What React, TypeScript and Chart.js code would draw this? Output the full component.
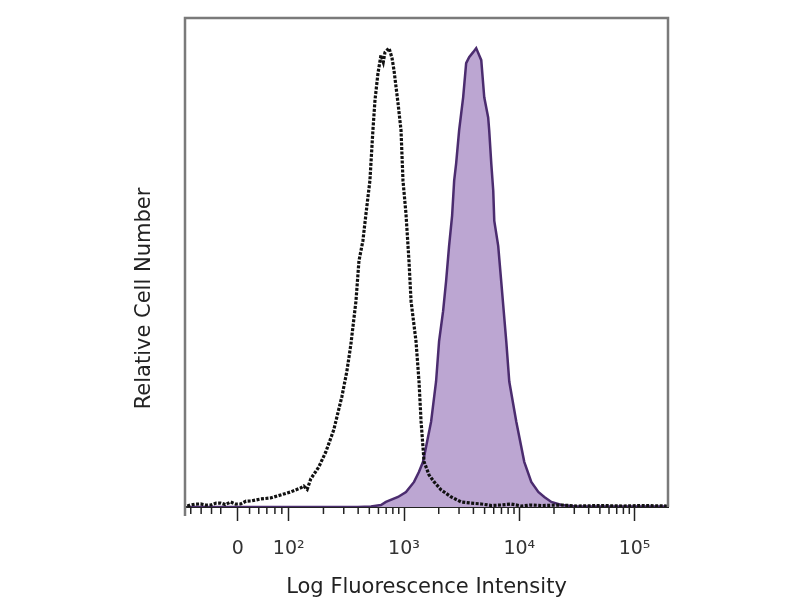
import React, { useEffect, useRef } from "react";
import { Chart, registerables } from "chart.js";

Chart.register(...registerables);

// Black (unfilled, dotted) histogram: x in log10 decades, y relative count
const blackX = [1.12, 1.148, 1.19, 1.235, 1.28, 1.322, 1.37, 1.409, 1.45, 1.496, 1.54, 1.583, 1.63, 1.67, 1.757, 1.843, 1.93, 2.017, 2.104, 2.13, 2.16, 2.191, 2.261, 2.322, 2.391, 2.461, 2.504, 2.539, 2.583, 2.609, 2.643, 2.67, 2.704, 2.73, 2.748, 2.774, 2.8, 2.82, 2.835, 2.87, 2.896, 2.913, 2.948, 2.974, 2.991, 3.017, 3.043, 3.061, 3.104, 3.13, 3.148, 3.174, 3.217, 3.261, 3.322, 3.409, 3.496, 3.58, 3.67, 3.76, 3.843, 3.93, 4.02, 4.104, 4.2, 4.365, 4.5, 4.713, 4.9, 5.061, 5.28];
const blackY = [0.2, 0.41, 0.6, 0.62, 0.4, 0.41, 0.8, 0.82, 0.5, 1.03, 0.6, 0.62, 1.2, 1.23, 1.64, 1.85, 2.46, 3.08, 3.9, 4.3, 3.6, 5.75, 8.21, 11.29, 15.81, 22.59, 27.72, 33.26, 42.09, 50.31, 54.41, 59.96, 66.74, 77.0, 83.16, 88.71, 92.4, 91.0, 93.0, 93.84, 91.79, 89.32, 82.55, 77.0, 66.74, 59.96, 50.31, 42.09, 33.88, 25.67, 17.45, 9.24, 6.57, 5.13, 3.49, 2.05, 1.03, 0.8, 0.62, 0.3, 0.41, 0.6, 0.2, 0.41, 0.3, 0.41, 0.2, 0.3, 0.2, 0.3, 0.2];

// Purple (filled) histogram
const purpleX = [1.12, 2.6, 2.713, 2.8, 2.843, 2.948, 3.017, 3.087, 3.13, 3.165, 3.2, 3.235, 3.278, 3.304, 3.339, 3.365, 3.391, 3.417, 3.435, 3.452, 3.478, 3.513, 3.539, 3.565, 3.6, 3.626, 3.652, 3.67, 3.696, 3.73, 3.739, 3.757, 3.774, 3.783, 3.817, 3.843, 3.887, 3.913, 3.974, 4.043, 4.104, 4.165, 4.217, 4.278, 4.365, 4.496, 5.28];
const purpleY = [0, 0, 0.1, 0.41, 1.03, 2.05, 3.08, 5.13, 7.19, 9.24, 13.35, 17.45, 25.67, 33.88, 40.04, 46.2, 53.39, 59.55, 66.74, 70.23, 77.0, 83.78, 90.76, 91.99, 93.02, 93.84, 92.4, 91.38, 83.78, 79.67, 77.0, 70.23, 64.68, 58.52, 53.39, 46.2, 33.88, 25.67, 17.45, 9.24, 5.13, 3.08, 2.05, 1.03, 0.41, 0.1, 0.1];

// Axis ticks
const tickValues = [1.557, 2, 3, 4, 5];
const tickLabels = ["0", "10²", "10³", "10⁴", "10⁵"];
const nearZeroMinorTicks = [1.15, 1.24, 1.33, 1.41, 1.66, 1.74, 1.81, 1.88, 1.94];

const X_MIN = 1.1;
const X_MAX = 5.29;
const FONT = "'DejaVu Sans', sans-serif";

function buildMinorTicks(): number[] {
  const out: number[] = [...nearZeroMinorTicks];
  for (let d = 2; d <= 5; d++) {
    for (let k = 2; k <= 9; k++) {
      const v = d + Math.log10(k);
      if (v < X_MAX) out.push(v);
    }
  }
  return out;
}

const framePlugin = {
  id: "framePlugin",
  afterDraw(chart: any) {
    const { ctx, chartArea, scales } = chart;
    const { left, right, top, bottom } = chartArea;
    const x = scales.x;
    ctx.save();
    // frame
    ctx.strokeStyle = "#7a7a7a";
    ctx.lineWidth = 2.5;
    ctx.beginPath();
    ctx.moveTo(left, bottom + 9);
    ctx.lineTo(left, top);
    ctx.lineTo(right, top);
    ctx.lineTo(right, bottom);
    ctx.stroke();
    // minor ticks
    ctx.strokeStyle = "#222";
    ctx.lineWidth = 1.5;
    buildMinorTicks().forEach((v) => {
      const px = x.getPixelForValue(v);
      ctx.beginPath();
      ctx.moveTo(px, bottom);
      ctx.lineTo(px, bottom + 7);
      ctx.stroke();
    });
    // y title
    ctx.translate(left - 40, (top + bottom) / 2 + 36);
    ctx.rotate(-Math.PI / 2);
    ctx.fillStyle = "#222";
    ctx.font = `21px ${FONT}`;
    ctx.textAlign = "center";
    ctx.textBaseline = "middle";
    ctx.fillText("Relative Cell Number", 0, 0);
    ctx.restore();
  },
};

export default function App() {
  const ref = useRef<HTMLCanvasElement | null>(null);

  useEffect(() => {
    if (!ref.current) return;
    const chart = new Chart(ref.current, {
      type: "line",
      data: {
        datasets: [
          {
            label: "Control",
            data: blackX.map((x, i) => ({ x, y: blackY[i] })),
            borderColor: "#111",
            borderWidth: 3.2,
            borderDash: [3, 1.5],
            pointRadius: 0,
            fill: false,
            tension: 0,
            order: 0,
          },
          {
            label: "Stained",
            data: purpleX.map((x, i) => ({ x, y: purpleY[i] })),
            borderColor: "#4b2c6f",
            backgroundColor: "rgb(188,166,210)",
            borderWidth: 2.5,
            pointRadius: 0,
            fill: "origin",
            tension: 0,
            order: 1,
          },
        ],
      },
      options: {
        responsive: false,
        animation: false,
        layout: { padding: { left: 185, right: 132, top: 18, bottom: 0 } },
        plugins: {
          legend: { display: false },
          tooltip: { enabled: false },
        },
        scales: {
          x: {
            type: "linear",
            min: X_MIN,
            max: X_MAX,
            afterBuildTicks: (scale: any) => {
              scale.ticks = tickValues.map((v) => ({ value: v }));
            },
            ticks: {
              autoSkip: false,
              maxRotation: 0,
              padding: 17,
              color: "#333",
              font: { family: FONT, size: 19 },
              callback: (_v: any, i: number) => tickLabels[i],
            },
            grid: {
              drawOnChartArea: false,
              drawTicks: true,
              tickLength: 14,
              tickColor: "#222",
              tickWidth: 1.5,
            },
            border: { display: true, color: "#222", width: 2 },
            title: {
              display: true,
              text: "Log Fluorescence Intensity",
              color: "#222",
              font: { family: FONT, size: 21 },
              padding: { top: -3, bottom: 0 },
            },
          },
          y: {
            display: false,
            min: 0,
            max: 100,
          },
        },
      },
      plugins: [framePlugin],
    });
    return () => chart.destroy();
  }, []);

  return (
    <div style={{ position: "absolute", left: 0, top: 0, width: 800, height: 600, background: "#fff" }}>
      <canvas ref={ref} width={800} height={600} style={{ display: "block" }} />
    </div>
  );
}
